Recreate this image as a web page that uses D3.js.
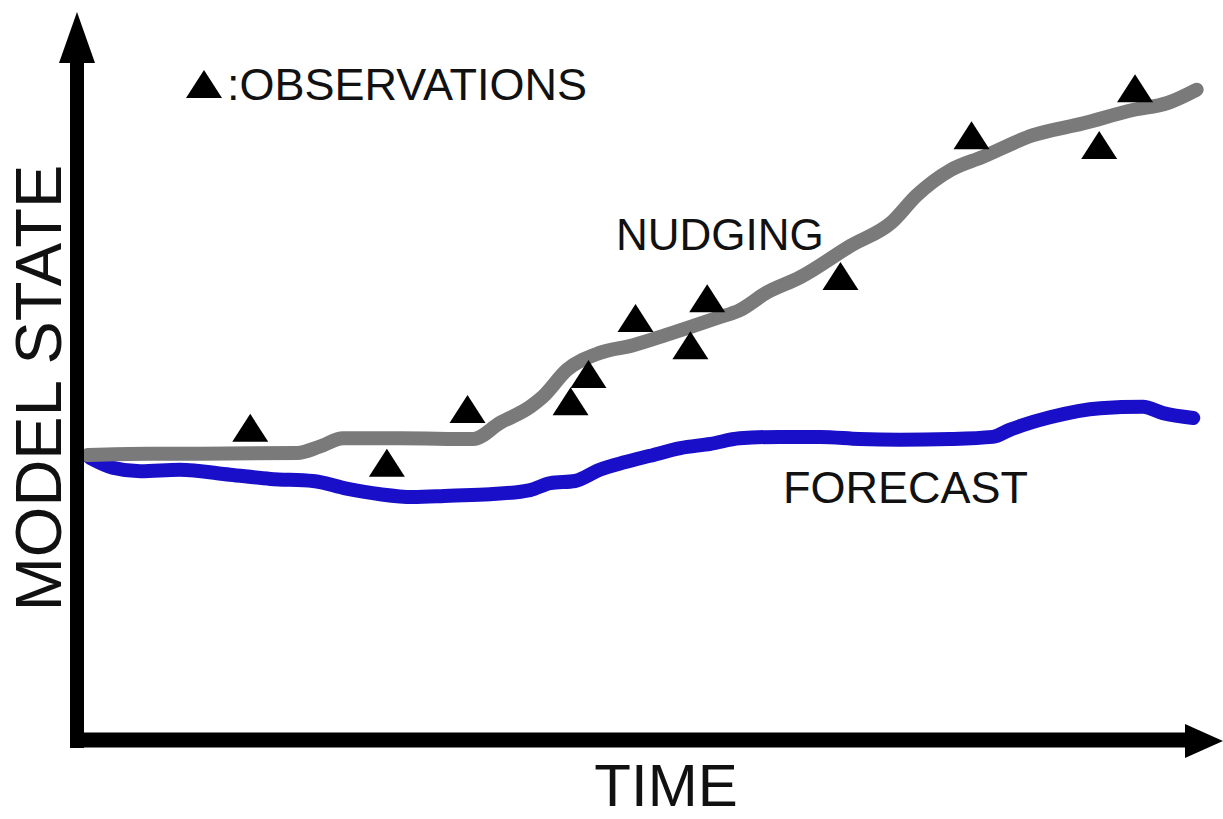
<!DOCTYPE html>
<html>
<head>
<meta charset="utf-8">
<script src="https://cdn.jsdelivr.net/npm/d3@7"></script>
<style>
  html, body { margin: 0; padding: 0; background: #ffffff; }
  svg { display: block; }
  text { font-family: "Liberation Sans", Arial, sans-serif; fill: #111; }
</style>
</head>
<body>
<svg id="chart" width="1223" height="819"></svg>
<script>
// ---- data (time in 0..100, model state in 0..100) ----
const forecastTime  = [0.9, 2.9, 5.4, 8.9, 13.4, 17.0, 20.8, 23.8, 26.8, 29.7, 33.0, 36.6, 40.2, 42.0, 44.2, 46.4, 48.7, 50.9, 53.6, 56.3, 58.9, 62.5, 66.1, 69.6, 73.2, 77.7, 81.5, 83.0, 86.6, 91.1, 94.9, 96.7, 99.4];
const forecastState = [40.3, 38.9, 38.4, 38.6, 37.9, 37.3, 37.0, 35.9, 35.1, 34.7, 34.9, 35.1, 35.7, 36.7, 37.0, 38.6, 39.7, 40.6, 41.7, 42.3, 43.1, 43.3, 43.3, 43.0, 42.9, 43.0, 43.3, 44.3, 46.1, 47.4, 47.6, 46.7, 46.0];

const nudgingTime  = [0.7, 6.0, 10.7, 19.4, 21.4, 23.5, 28.6, 35.1, 37.5, 40.2, 41.3, 43.5, 46.4, 49.4, 52.4, 56.9, 58.9, 61.3, 64.3, 68.8, 72.5, 74.7, 77.7, 80.6, 85.1, 89.6, 94.0, 97.1, 99.7];
const nudgingState = [40.7, 40.9, 40.9, 41.0, 41.9, 43.1, 43.1, 43.0, 45.3, 47.6, 49.0, 52.9, 55.3, 56.4, 57.9, 60.3, 61.4, 63.9, 66.1, 70.6, 74.0, 77.8, 81.4, 83.3, 86.4, 88.1, 90.0, 91.0, 92.9];

const obsTime  = [15.2, 27.4, 34.6, 43.8, 45.4, 49.6, 54.5, 56.0, 67.9, 79.6, 91.0, 94.2];
const obsState = [44.6, 39.6, 47.3, 48.4, 52.3, 60.3, 56.4, 63.1, 66.3, 86.4, 85.0, 93.1];

const labels = { x: "TIME", y: "MODEL STATE", nudging: "NUDGING", forecast: "FORECAST", legend: ":OBSERVATIONS" };

// ---- layout ----
const svg = d3.select("#chart");
const x = d3.scaleLinear().domain([0, 100]).range([80, 1200]);
const y = d3.scaleLinear().domain([0, 100]).range([740, 40]);

const forecast = forecastTime.map((t, i) => [t, forecastState[i]]);
const nudging  = nudgingTime.map((t, i) => [t, nudgingState[i]]);
const obs      = obsTime.map((t, i) => [t, obsState[i]]);

const line = d3.line().x(d => x(d[0])).y(d => y(d[1])).curve(d3.curveMonotoneX);

// forecast line
svg.append("path").datum(forecast)
  .attr("d", line)
  .attr("fill", "none")
  .attr("stroke", "#1a0fc8")
  .attr("stroke-width", 14)
  .attr("stroke-linecap", "round")
  .attr("stroke-linejoin", "round");

// nudging line
svg.append("path").datum(nudging)
  .attr("d", line)
  .attr("fill", "none")
  .attr("stroke", "#7a7a7a")
  .attr("stroke-width", 14)
  .attr("stroke-linecap", "round")
  .attr("stroke-linejoin", "round");

// observations
const tri = (cx, cy, w, h) => `M${cx - w / 2},${cy + h / 2}L${cx},${cy - h / 2}L${cx + w / 2},${cy + h / 2}Z`;
svg.append("g").selectAll("path").data(obs).join("path")
  .attr("d", d => tri(x(d[0]), y(d[1]), 36, 28))
  .attr("fill", "#000");

// axes
const ax = svg.append("g");
const x0 = x(0) - 3, y0 = y(0);
ax.append("line").attr("x1", x0).attr("x2", x0).attr("y1", y0 + 8).attr("y2", 60)
  .attr("stroke", "#000").attr("stroke-width", 14);
ax.append("path").attr("d", `M${x0},12L${x0 - 18},63L${x0 + 18},63Z`).attr("fill", "#000");
ax.append("line").attr("x1", x0 - 7).attr("x2", 1188).attr("y1", y0).attr("y2", y0)
  .attr("stroke", "#000").attr("stroke-width", 15);
ax.append("path").attr("d", `M1223,${y0 + 1}L1185,${y0 - 16}L1185,${y0 + 18}Z`).attr("fill", "#000");

// axis titles
svg.append("text").attr("x", 666).attr("y", 806).attr("text-anchor", "middle")
  .attr("font-size", 60).text(labels.x);
svg.append("text").attr("transform", "translate(61,388) rotate(-90)").attr("text-anchor", "middle")
  .attr("font-size", 65).text(labels.y);

// series labels
svg.append("text").attr("x", 616).attr("y", 250).attr("font-size", 44).text(labels.nudging);
svg.append("text").attr("x", 783).attr("y", 503).attr("font-size", 45).text(labels.forecast);

// legend
svg.append("path").attr("d", tri(204, 84, 36, 28)).attr("fill", "#000");
svg.append("text").attr("x", 227).attr("y", 100).attr("font-size", 45).text(labels.legend);
</script>
</body>
</html>
